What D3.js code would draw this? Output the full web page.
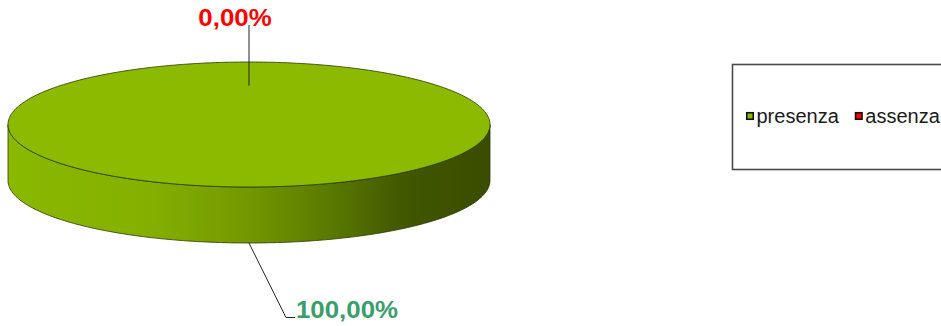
<!DOCTYPE html>
<html>
<head>
<meta charset="utf-8">
<script src="https://cdn.jsdelivr.net/npm/d3@7/dist/d3.min.js"></script>
<style>
  html, body { margin: 0; padding: 0; background: #fff; overflow: hidden; }
  svg { display: block; font-family: "Liberation Sans", Arial, sans-serif; }
</style>
</head>
<body>
<svg id="chart" width="941" height="326"></svg>
<script>
// Presence vs absence shares (percent)
const categories = ["presenza", "assenza"];
const values = [100, 0];
const sliceColors = ["#8cba00", "#ff0000"];
const labelColors = ["#3a9d6c", "#ff0000"];

const svg = d3.select("#chart");

// Ellipse geometry of the tilted pie
const cx = 249, cy = 124.5, rx = 241, ry = 62.5, depth = 56;

const color = d3.scaleOrdinal().domain(categories).range(sliceColors);
const labelColor = d3.scaleOrdinal().domain(categories).range(labelColors);
const fmt = v => d3.format(".2f")(v).replace(".", ",") + "%";

const pie = d3.pie().sort(null).value(d => d.value);
const arcs = pie(categories.map((c, i) => ({ cat: c, value: values[i] })));

// Pie angle (0 at 12 o'clock, clockwise) -> ellipse parameter in screen space
const toT = a => a - Math.PI / 2;
const pt = (t, dy = 0) => [cx + rx * Math.cos(t), cy + ry * Math.sin(t) + dy];

function arcPoints(t0, t1, dy) {
  const n = Math.max(2, Math.ceil(Math.abs(t1 - t0) / 0.02));
  return d3.range(n + 1).map(i => pt(t0 + (t1 - t0) * i / n, dy));
}

// Gradient for the outer wall: bright on the left, dark olive on the right
const defs = svg.append("defs");
const grad = defs.append("linearGradient")
  .attr("id", "sideGrad")
  .attr("gradientUnits", "userSpaceOnUse")
  .attr("x1", cx - rx).attr("x2", cx + rx).attr("y1", 0).attr("y2", 0);
[[0, "#8ab900"], [0.3, "#84af00"], [0.5, "#739700"], [0.68, "#587700"], [0.82, "#415700"], [1, "#3a4c00"]]
  .forEach(([o, c]) => grad.append("stop").attr("offset", o).attr("stop-color", c));

const pieG = svg.append("g");

// Outer walls: only the front half (t in [0, PI]) is visible
arcs.forEach(d => {
  if (d.endAngle - d.startAngle <= 0) return;
  const t0 = toT(d.startAngle), t1 = toT(d.endAngle);
  const s = Math.max(t0, 0), e = Math.min(t1, Math.PI);
  if (e <= s) return;
  const top = arcPoints(s, e, 0);
  const bottom = arcPoints(e, s, depth);
  pieG.append("path")
    .attr("d", "M" + top.concat(bottom).map(p => p.join(",")).join("L") + "Z")
    .attr("fill", "url(#sideGrad)")
    .attr("stroke", "#2b3800")
    .attr("stroke-width", 0.8);
});

// Top faces
arcs.forEach(d => {
  if (d.endAngle - d.startAngle <= 0) return;
  const t0 = toT(d.startAngle), t1 = toT(d.endAngle);
  const full = d.endAngle - d.startAngle >= 2 * Math.PI - 1e-9;
  const pts = arcPoints(t0, t1, 0);
  const path = full
    ? "M" + pts.map(p => p.join(",")).join("L") + "Z"
    : "M" + cx + "," + cy + "L" + pts.map(p => p.join(",")).join("L") + "Z";
  pieG.append("path")
    .attr("d", path)
    .attr("fill", color(d.data.cat))
    .attr("stroke", "#2b3800")
    .attr("stroke-width", 0.8);
});

// Data labels with leader lines (text slightly widened)
const labelG = svg.append("g");
function addLabel(x, y, anchor, txt, fill) {
  labelG.append("g")
    .attr("transform", `translate(${x},${y}) scale(1.1,1)`)
    .append("text")
    .attr("text-anchor", anchor)
    .attr("font-size", 23.5).attr("font-weight", "bold")
    .attr("fill", fill)
    .text(txt);
}
arcs.forEach(d => {
  const mid = toT((d.startAngle + d.endAngle) / 2);
  const s = Math.sin(mid);
  const txt = fmt(d.data.value);
  if (s < 0) {
    // label above the pie, leader dropping onto the top face
    const p = pt(mid);
    const inner = [cx + (p[0] - cx) * 0.62, cy + (p[1] - cy) * 0.62];
    labelG.append("line")
      .attr("x1", inner[0]).attr("y1", 25)
      .attr("x2", inner[0]).attr("y2", inner[1])
      .attr("stroke", "#222").attr("stroke-width", 1);
    addLabel(inner[0] - 14, 26, "middle", txt, labelColor(d.data.cat));
  } else {
    // label below the pie, elbow leader from the bottom rim
    const p = pt(mid, depth);
    const elbow = [p[0] + 37, 317.5];
    labelG.append("polyline")
      .attr("points", [p, elbow, [elbow[0] + 9, elbow[1]]].map(q => q.join(",")).join(" "))
      .attr("fill", "none")
      .attr("stroke", "#222").attr("stroke-width", 1);
    addLabel(elbow[0] + 10, 318, "start", txt, labelColor(d.data.cat));
  }
});

// Legend box (extends past the right edge)
const legend = svg.append("g");
legend.append("rect")
  .attr("x", 732.5).attr("y", 64.5)
  .attr("width", 240).attr("height", 105)
  .attr("fill", "#fff")
  .attr("stroke", "#4a4a4a").attr("stroke-width", 1.6);

let lx = 746;
categories.forEach(c => {
  legend.append("rect")
    .attr("x", lx + 0.75).attr("y", 112.75)
    .attr("width", 6.5).attr("height", 6.5)
    .attr("fill", color(c))
    .attr("stroke", "#111").attr("stroke-width", 1.6);
  const t = legend.append("text")
    .attr("x", lx + 10.5).attr("y", 123)
    .attr("font-size", 20)
    .attr("fill", "#1a1a1a")
    .text(c);
  lx += 10.5 + t.node().getComputedTextLength() + 16;
});
</script>
</body>
</html>
